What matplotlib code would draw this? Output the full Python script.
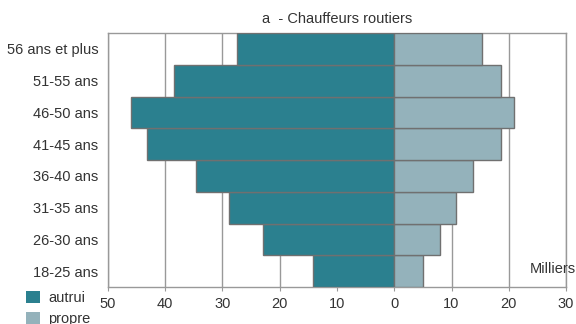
import matplotlib.pyplot as plt
import numpy as np
from matplotlib.patches import Patch

plt.rcParams["font.family"] = ["Liberation Sans", "DejaVu Sans"]

age_groups = ["18-25 ans", "26-30 ans", "31-35 ans", "36-40 ans",
              "41-45 ans", "46-50 ans", "51-55 ans", "56 ans et plus"]
autrui = [14.2, 22.9, 28.9, 34.6, 43.2, 46.0, 38.5, 27.4]
propre = [5.1, 8.0, 10.8, 13.7, 18.6, 20.9, 18.6, 15.4]
x_ticks = [-50, -40, -30, -20, -10, 0, 10, 20, 30]
x_labels = ["50", "40", "30", "20", "10", "0", "10", "20", "30"]

COL_AUTRUI = "#2b808f"
COL_PROPRE = "#94b2bb"
EDGE = "#707070"
TEXT = "#333333"
FS = 10.5

fig = plt.figure(figsize=(5.76, 3.24), dpi=100)
ax = fig.add_axes([108 / 576, 1 - 287 / 324, (566 - 108) / 576, (287 - 33) / 324])

y = np.arange(len(age_groups))
ax.barh(y, -np.array(autrui), height=1.0, color=COL_AUTRUI, edgecolor=EDGE,
        linewidth=1.0, zorder=3)
ax.barh(y, propre, height=1.0, color=COL_PROPRE, edgecolor=EDGE,
        linewidth=1.0, zorder=3)

ax.set_xlim(-50, 30)
ax.set_ylim(-0.5, len(age_groups) - 0.5)
ax.set_xticks(x_ticks)
ax.set_xticklabels(x_labels)
ax.set_yticks(y)
ax.set_yticklabels(age_groups)
ax.tick_params(axis="x", length=3, color="#999999", labelsize=FS,
               labelcolor=TEXT, pad=4)
ax.tick_params(axis="y", length=0, labelsize=FS, labelcolor=TEXT, pad=7)
ax.grid(axis="x", color="#999999", linewidth=1.0, zorder=0)
ax.set_axisbelow(True)
for spine in ax.spines.values():
    spine.set_color("#999999")
    spine.set_linewidth(1.0)

ax.set_title("a  - Chauffeurs routiers", fontsize=FS, color=TEXT, pad=7)
ax.text(1.022, 0.045, "Milliers", transform=ax.transAxes, ha="right",
        va="bottom", fontsize=FS, color=TEXT)

handles = [Patch(facecolor=COL_AUTRUI, edgecolor="none", label="autrui"),
           Patch(facecolor=COL_PROPRE, edgecolor="none", label="propre")]
fig.legend(handles=handles, loc="upper left", bbox_to_anchor=(20 / 576, 1 - 285 / 324),
           frameon=False, fontsize=FS, handlelength=0.95, handleheight=0.95,
           handletextpad=0.6, labelspacing=0.45, borderaxespad=0,
           labelcolor=TEXT)

fig.savefig("out.png", dpi=100)
